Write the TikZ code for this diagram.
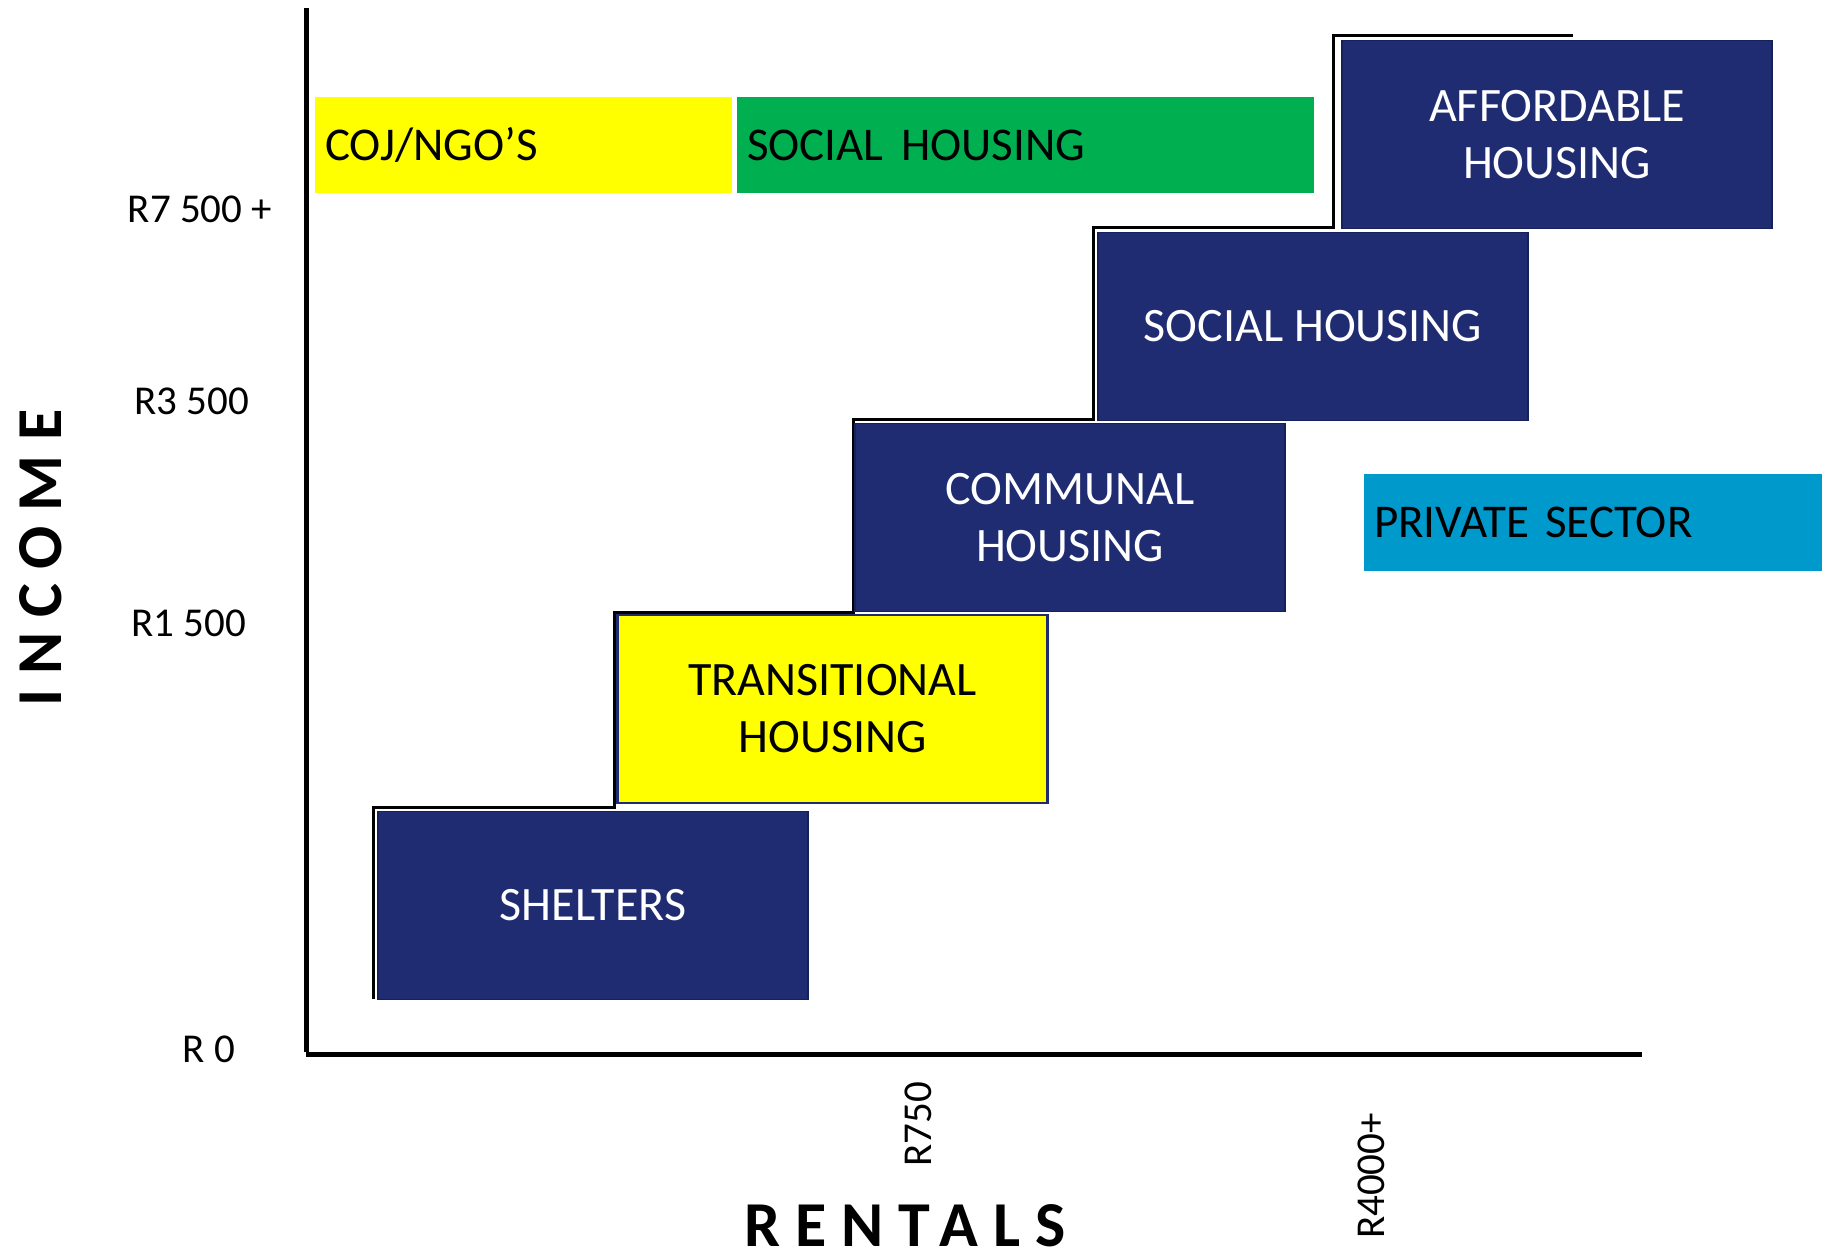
\documentclass[tikz,border=0pt]{standalone}
\usepackage{fontspec}
\setmainfont{Carlito}
\newfontfamily\axisfont{Carlito}[LetterSpace=23]
\definecolor{navy}{HTML}{1F2C71}
\definecolor{navyedge}{HTML}{16205A}
\definecolor{cojyellow}{HTML}{FFFF00}
\definecolor{bandgreen}{HTML}{00B050}
\definecolor{privateblue}{HTML}{0099CC}
\tikzset{
  navybox/.style={draw=navyedge,line width=0.8pt,fill=navy,text=white,minimum width=215pt,minimum height=94pt,inner sep=0pt,align=center,font=\fontsize{24}{28.5}\selectfont},
  yellowbox/.style={navybox,fill=cojyellow,text=black,draw=navy,line width=1.2pt},
  bannerbox/.style={minimum height=48pt,text width=#1,inner xsep=5pt,inner ysep=0pt,align=left,font=\fontsize{23.5}{28.5}\selectfont},
  ticklabel/.style={inner sep=0pt,font=\fontsize{20.5}{24}\selectfont},
  axistitle/.style={inner sep=0pt,font=\axisfont\bfseries\fontsize{32}{36}\selectfont},
}
\begin{document}
\begin{tikzpicture}[x=0.5pt,y=-0.5pt]
\useasboundingbox (0,0) rectangle (1822,1255);
% axes
\draw[line width=2.5pt](306,8)--(306,1052);
\draw[line width=2.5pt](306,1054)--(1642,1054);
% staircase behind the boxes
\draw[line width=1.5pt](373,999)--(373,807)--(614,807)--(614,612)--(853,612)--(853,419)--(1093,419)--(1093,227)--(1333,227)--(1333,35)--(1573,35);
% housing steps
\node[navybox](shelters) at (593,905.5){SHELTERS};
\node[yellowbox](transitional) at (832.5,709){TRANSITIONAL\\HOUSING};
\node[navybox](communal) at (1070,517.5){COMMUNAL\\HOUSING};
\node[navybox](social) at (1313,326.5){SOCIAL HOUSING};
\node[navybox](affordable) at (1557,134.5){AFFORDABLE\\HOUSING};
% bands
\node[bannerbox=198.5pt,fill=cojyellow](coj) at (523.5,145){COJ/NGO’S};
\node[bannerbox=278.5pt,fill=bandgreen](socialband) at (1025.5,145){SOCIAL\hspace{0.38em}HOUSING};
\node[bannerbox=219pt,fill=privateblue,minimum height=48.5pt](private) at (1593,522.5){PRIVATE SECTOR};
% income ticks
\foreach \y/\lab/\x in {209/R7 500 +/200,401/R3 500/192,623/R1 500/189,1049/R 0/209}{\node[ticklabel](inc\y) at (\x,\y){\lab};}
% rental ticks
\node[ticklabel,rotate=90](rent750) at (918,1124){R750};
\node[ticklabel,rotate=90](rent4000) at (1371,1176){R4000+};
% axis titles
\node[axistitle,rotate=90](income) at (41,558){INCOME};
\node[axistitle](rentals) at (905,1226){RENTALS};
\end{tikzpicture}
\end{document}
